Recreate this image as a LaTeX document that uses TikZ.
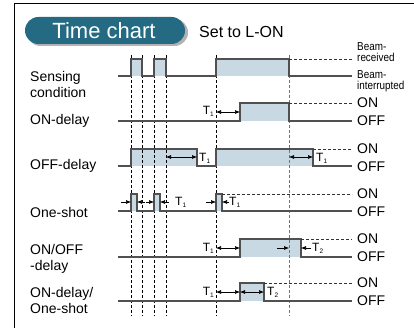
\documentclass[tikz,border=0pt]{standalone}
\usepackage{fontspec}
\setmainfont{Liberation Sans}
\newfontfamily\narrowfont[FakeStretch=0.86]{Liberation Sans}
\usetikzlibrary{arrows.meta}
\tikzset{>={Latex[width=4pt,length=5pt]}}
\definecolor{chartblue}{HTML}{246A82}
\definecolor{pulsefill}{HTML}{C8D9E3}
\definecolor{wavegray}{HTML}{505050}
\tikzset{
  wave/.style={draw=wavegray, line width=1.2pt, line join=miter},
  guide/.style={densely dashed, line width=0.7pt},
  onlevel/.style={densely dashed, line width=0.6pt, black!80},
  rowlabel/.style={anchor=west, align=left, inner sep=0pt, font=\fontsize{14}{16}\selectfont},
  levellabel/.style={anchor=west, inner sep=0pt, font=\fontsize{14}{14}\selectfont},
  beamlabel/.style={anchor=west, align=left, inner sep=0pt, font=\narrowfont\fontsize{11.5}{11}\selectfont},
  tlabel/.style={inner sep=0pt, font=\fontsize{12}{12}\selectfont},
  dim/.style={line width=0.6pt}
}
\newcommand\tsub[1]{T\raisebox{-0.3ex}{\fontsize{6.5}{6.5}\selectfont #1}}

\begin{document}
\begin{tikzpicture}[x=1pt,y=-1pt]
\useasboundingbox (0,0) rectangle (414,328);
\draw[line width=1pt] (14,328) -- (14,4) -- (414,4);

% title
\fill[black!30, rounded corners=13.5pt] (27,19) rectangle (188,46);
\fill[chartblue, rounded corners=13.5pt] (25,17) rectangle (185,44);
\node[white, inner sep=0pt, font=\fontsize{22}{22}\selectfont] (title) at (104,30.5) {Time chart};
\node[anchor=west, inner sep=0pt, font=\fontsize{16}{16}\selectfont] (mode) at (199,32) {Set to L-ON};

% pulse areas
\fill[pulsefill] (131,59) rectangle (142,76);
\fill[pulsefill] (154,59) rectangle (166,76);
\fill[pulsefill] (216,59) rectangle (289,76);
\fill[pulsefill] (240,103) rectangle (289,121);
\fill[pulsefill] (131,149) rectangle (197,166);
\fill[pulsefill] (216,149) rectangle (313,166);
\fill[pulsefill] (131,194) rectangle (137,211);
\fill[pulsefill] (154,194) rectangle (160,211);
\fill[pulsefill] (216,194) rectangle (222,211);
\fill[pulsefill] (240,239) rectangle (301,257);
\fill[pulsefill] (240,283) rectangle (264,301);

% timing guides
\foreach \x in {131,142,154,166,216}
  \draw[guide] (\x,55) -- (\x,316);
\draw[guide, black!55] (289,55) -- (289,316);

% sensing condition
\draw[wave] (118,76) -- (131,76) -- (131,59) -- (142,59) -- (142,76) -- (154,76) -- (154,59)
  -- (166,59) -- (166,76) -- (216,76) -- (216,59) -- (289,59) -- (289,76) -- (352,76);
\draw[onlevel] (289,59) -- (352,59);
\node[rowlabel] (sensing) at (30,84) {Sensing\\condition};
\node[beamlabel] (received) at (357,52.5) {Beam-\\received};
\node[beamlabel] (interrupted) at (357,81.5) {Beam-\\interrupted};

% ON-delay
\draw[wave] (118,121) -- (240,121) -- (240,103) -- (289,103) -- (289,121) -- (352,121);
\draw[onlevel] (289,103) -- (352,103);
\draw[dim, <->] (216,112) -- (240,112);
\node[tlabel, anchor=east] (ondT) at (214,111) {\tsub{1}};
\node[rowlabel] (ondelay) at (30,121) {ON-delay};
\node[levellabel] (ondon) at (357,103) {ON};
\node[levellabel] (ondoff) at (357,121) {OFF};

% OFF-delay
\draw[wave] (118,166) -- (131,166) -- (131,149) -- (197,149) -- (197,166) -- (216,166)
  -- (216,149) -- (313,149) -- (313,166) -- (352,166);
\draw[onlevel] (313,149) -- (352,149);
\draw[dim, <->] (166,157) -- (197,157);
\draw[dim, <->] (289,157) -- (313,157);
\node[tlabel, anchor=west] (offdTa) at (199,158) {\tsub{1}};
\node[tlabel, anchor=west] (offdTb) at (316,158) {\tsub{1}};
\node[rowlabel] (offdelay) at (30,166) {OFF-delay};
\node[levellabel] (offdon) at (357,149) {ON};
\node[levellabel] (offdoff) at (357,167) {OFF};

% one-shot
\draw[wave] (118,211) -- (131,211) -- (131,194) -- (137,194) -- (137,211) -- (154,211)
  -- (154,194) -- (160,194) -- (160,211) -- (216,211) -- (216,194) -- (222,194) -- (222,211) -- (352,211);
\draw[onlevel] (222,194) -- (352,194);
\draw[dim, ->] (121,202) -- (131,202);
\draw[dim, ->] (145,202) -- (137,202);
\draw[dim, ->] (146,202) -- (154,202);
\draw[dim, ->] (169,202) -- (160,202);
\draw[dim, ->] (206,202) -- (216,202);
\draw[dim, ->] (229,202) -- (222,202);
\node[tlabel, anchor=west] (shotTa) at (175,202) {\tsub{1}};
\node[tlabel, anchor=west] (shotTb) at (229,202) {\tsub{1}};
\node[rowlabel] (oneshot) at (30,212) {One-shot};
\node[levellabel] (shoton) at (357,194) {ON};
\node[levellabel] (shotoff) at (357,212) {OFF};

% ON/OFF-delay
\draw[wave] (118,257) -- (240,257) -- (240,239) -- (301,239) -- (301,257) -- (352,257);
\draw[onlevel] (301,239) -- (352,239);
\draw[dim, <->] (216,248) -- (240,248);
\draw[dim, ->] (277,248) -- (289,248);
\draw[dim, ->] (311,248) -- (301,248);
\node[tlabel, anchor=east] (onoffTa) at (214,248) {\tsub{1}};
\node[tlabel, anchor=west] (onoffTb) at (312,248) {\tsub{2}};
\node[rowlabel] (onoffdelay) at (30,258.5) {ON/OFF\\-delay};
\node[levellabel] (onoffon) at (357,239) {ON};
\node[levellabel] (onoffoff) at (357,257) {OFF};

% ON-delay/one-shot
\draw[wave] (118,301) -- (240,301) -- (240,283) -- (264,283) -- (264,301) -- (352,301);
\draw[onlevel] (264,283) -- (352,283);
\draw[dim, <->] (216,292) -- (240,292);
\draw[dim, <->] (240,292) -- (264,292);
\node[tlabel, anchor=east] (dshotTa) at (214,292) {\tsub{1}};
\node[tlabel, anchor=west] (dshotTb) at (267,292) {\tsub{2}};
\node[rowlabel] (delayshot) at (30,300) {ON-delay/\\One-shot};
\node[levellabel] (dshoton) at (357,283) {ON};
\node[levellabel] (dshotoff) at (357,301) {OFF};
\end{tikzpicture}
\end{document}
